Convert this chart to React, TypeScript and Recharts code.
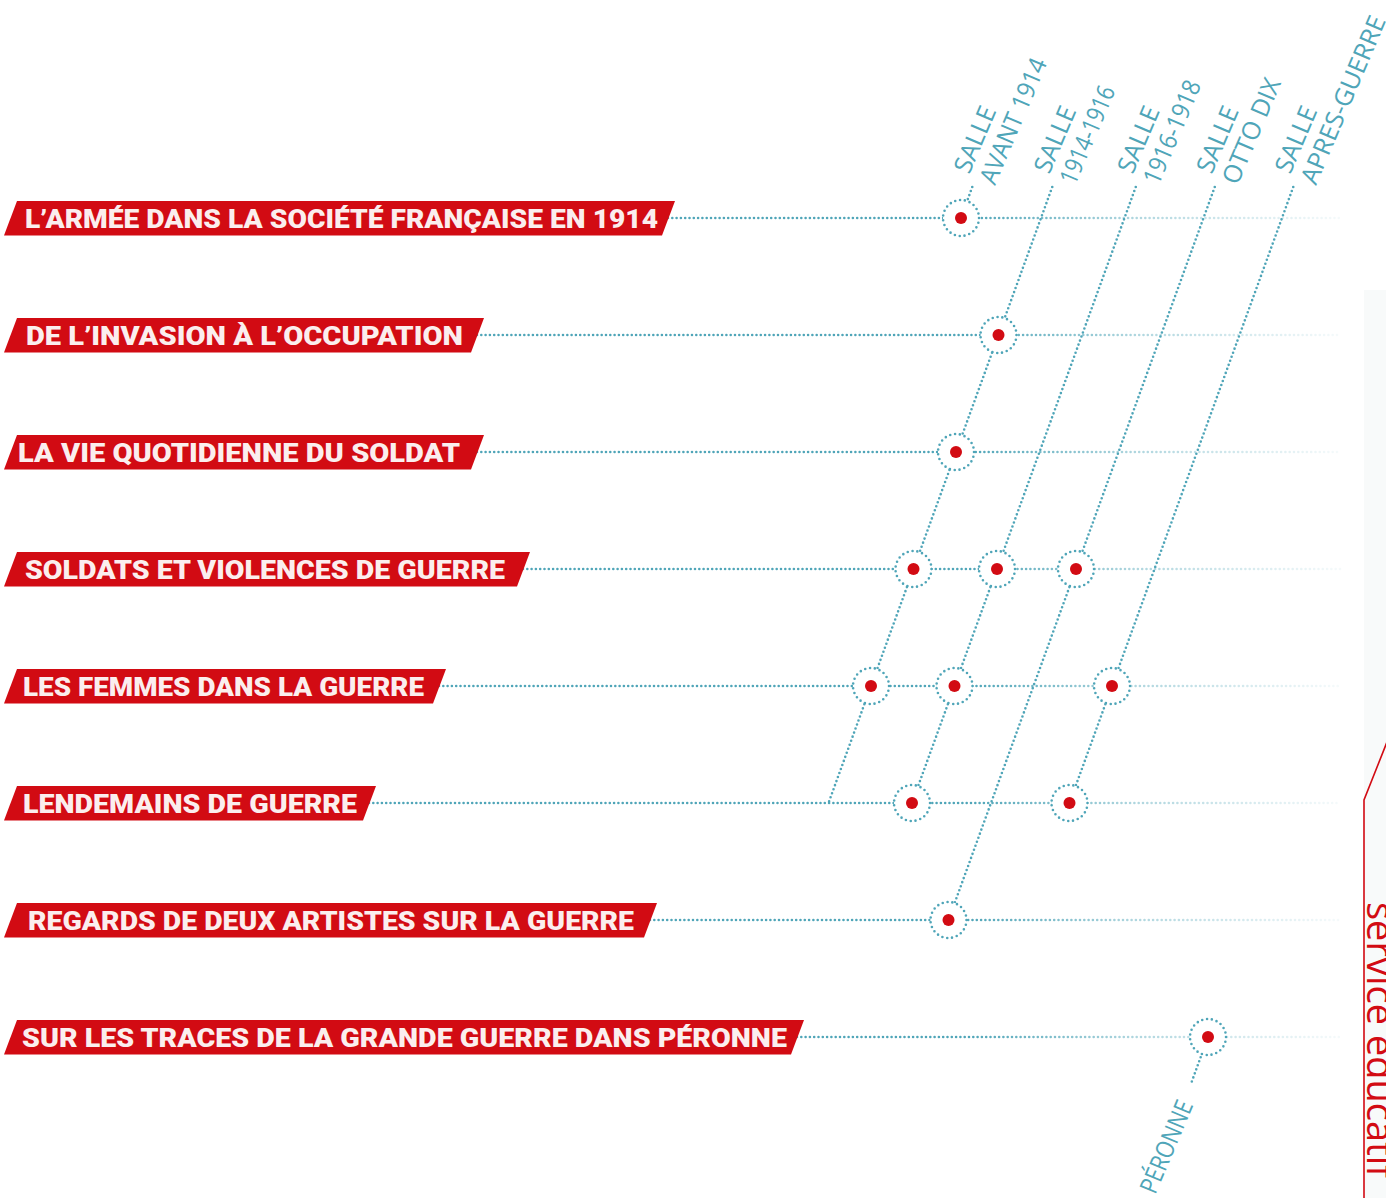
import React from "react";
import { ScatterChart, Scatter, XAxis, YAxis } from "recharts";

// ---------- data ----------
const THEMES = [
  "L’ARMÉE DANS LA SOCIÉTÉ FRANÇAISE EN 1914",
  "DE L’INVASION À L’OCCUPATION",
  "LA VIE QUOTIDIENNE DU SOLDAT",
  "SOLDATS ET VIOLENCES DE GUERRE",
  "LES FEMMES DANS LA GUERRE",
  "LENDEMAINS DE GUERRE",
  "REGARDS DE DEUX ARTISTES SUR LA GUERRE",
  "SUR LES TRACES DE LA GRANDE GUERRE DANS PÉRONNE",
];
const THEME_ROWS = [0, 1, 2, 3, 4, 5, 6, 7];

const SALLE_TITLES = ["SALLE", "SALLE", "SALLE", "SALLE", "SALLE", ""];
const SALLE_NAMES = ["AVANT 1914", "1914-1916", "1916-1918", "OTTO DIX", "APRES-GUERRE", "PÉRONNE"];
// position of each route where it crosses the first theme row (x-axis units)
const SALLE_POS = [961, 1041, 1124.5, 1203.5, 1282, 1505.5];
// rows (y-axis units) where each route starts and ends
const SALLE_FROM = [-0.265, -0.265, -0.265, -0.265, -0.265, 7];
const SALLE_TO = [0, 5, 5, 6, 5, 7.41];

// which theme is visited in which salle
const VISIT_THEME = [0, 1, 2, 3, 3, 3, 4, 4, 4, 5, 5, 6, 7];
const VISIT_SALLE = [0, 1, 1, 1, 2, 3, 1, 2, 4, 2, 4, 3, 5];

// ---------- layout / style ----------
const W = 1386;
const H = 1198;
const ROW0_PX = 218;
const ROW_STEP_PX = 117;
const Y_MIN = -ROW0_PX / ROW_STEP_PX;
const Y_MAX = (H - ROW0_PX) / ROW_STEP_PX;
const SLANT = 42.5;
const LINE_END = 1340;
const BANNER_TEXT_X = [25, 26, 18, 25, 23, 23, 28, 22];
const BANNER_TEXT_W = [633, 437, 442, 480, 401, 334, 606, 765];
const BANNER_RIGHT = [675, 484, 484, 530, 446, 376, 657, 804];
const TITLE_LEN = 70;
const NAME_LEN = [134, 104, 110, 112, 180, 98];

const TEAL = "#4fa5b8";
const RED = "#d20b13";

const xAt = (s: number, r: number) => SALLE_POS[s] - SLANT * r;

const rowLines = THEME_ROWS.map((r) => [
  { x: BANNER_RIGHT[r] - 7, y: r },
  { x: LINE_END, y: r },
]);
const routeLines = SALLE_POS.map((_, s) => [
  { x: xAt(s, SALLE_FROM[s]), y: SALLE_FROM[s] },
  { x: xAt(s, SALLE_TO[s]), y: SALLE_TO[s] },
]);
const visits = VISIT_THEME.map((r, k) => ({ x: xAt(VISIT_SALLE[k], r), y: r }));
const banners = THEME_ROWS.map((r) => ({ x: 0, y: r, i: r, label: THEMES[r] }));
const salleLabels = SALLE_POS.slice(0, 5).map((_, s) => ({
  x: xAt(s, SALLE_FROM[s]),
  y: SALLE_FROM[s],
  s,
  title: SALLE_TITLES[s],
  name: SALLE_NAMES[s],
}));
const peronneLabel = [{ x: xAt(5, SALLE_TO[5]), y: SALLE_TO[5], s: 5, name: SALLE_NAMES[5] }];

const EmptyShape = () => <g />;

const VisitShape = (props: any) => {
  const { cx, cy } = props;
  return (
    <g>
      <circle
        cx={cx}
        cy={cy}
        r={18}
        fill="#ffffff"
        stroke={TEAL}
        strokeWidth={2.6}
        strokeDasharray="0 4.9"
        strokeLinecap="round"
      />
      <circle cx={cx} cy={cy} r={6} fill={RED} />
    </g>
  );
};

const BannerShape = (props: any) => {
  const { cy, payload } = props;
  const i = payload.i;
  const R = BANNER_RIGHT[i];
  const top = cy - 17;
  const bot = cy + 17.5;
  return (
    <g>
      <polygon points={`4,${bot} 17,${top} ${R},${top} ${R - 13},${bot}`} fill={RED} />
      <text
        x={BANNER_TEXT_X[i]}
        y={cy + 10}
        fill="#fbeeee"
        fontFamily="Roboto, 'Liberation Sans', sans-serif"
        fontWeight={900}
        fontSize={26}
        textLength={BANNER_TEXT_W[i]}
        lengthAdjust="spacingAndGlyphs"
      >
        {payload.label}
      </text>
    </g>
  );
};

const labelFont = {
  fill: TEAL,
  fontFamily: "'Open Sans', sans-serif",
  fontSize: 25,
};

const SalleLabelShape = (props: any) => {
  const { cx, cy, payload } = props;
  const x = cx - 3;
  const y = cy - 12;
  return (
    <g transform={`rotate(-67 ${x} ${y})`}>
      <text x={x} y={y} {...labelFont} textLength={TITLE_LEN} lengthAdjust="spacingAndGlyphs">
        {payload.title}
      </text>
      <text x={x} y={y + 28} {...labelFont} textLength={NAME_LEN[payload.s]} lengthAdjust="spacingAndGlyphs">
        {payload.name}
      </text>
    </g>
  );
};

const PeronneLabelShape = (props: any) => {
  const { cx, cy, payload } = props;
  const x = cx + 3;
  const y = cy + 20;
  return (
    <g transform={`rotate(-67 ${x} ${y})`}>
      <text
        x={x - NAME_LEN[payload.s]}
        y={y}
        {...labelFont}
        textLength={NAME_LEN[payload.s]}
        lengthAdjust="spacingAndGlyphs"
      >
        {payload.name}
      </text>
    </g>
  );
};

const dotted = {
  stroke: TEAL,
  strokeWidth: 2.6,
  strokeDasharray: "0 4.3",
  strokeLinecap: "round" as const,
};

export default function App() {
  return (
    <div style={{ position: "absolute", left: 0, top: 0, width: W, height: H, background: "#ffffff", overflow: "hidden" }}>
      <svg width={W} height={H} style={{ position: "absolute", left: 0, top: 0 }}>
        <rect x={1364} y={290} width={W - 1364} height={H - 290} fill="#f8fafa" />
        <path d={`M1387,742 L1364,800 L1364,${H}`} fill="none" stroke={RED} strokeWidth={1.6} />
        <text
          x={1367}
          y={902}
          transform="rotate(90 1367 902)"
          fill={RED}
          fontFamily="'Open Sans', sans-serif"
          fontWeight={400}
          fontSize={38}
        >
          service educatif
        </text>
      </svg>
      <div style={{ position: "absolute", left: 0, top: 0 }}>
        <ScatterChart width={W} height={H} margin={{ top: 0, right: 0, bottom: 0, left: 0 }}>
          <defs>
            <linearGradient id="rowFade" gradientUnits="userSpaceOnUse" x1="0" y1="0" x2={W} y2="0">
              <stop offset="0" stopColor={TEAL} stopOpacity={1} />
              <stop offset="0.70" stopColor={TEAL} stopOpacity={1} />
              <stop offset="0.82" stopColor={TEAL} stopOpacity={0.45} />
              <stop offset="0.965" stopColor={TEAL} stopOpacity={0.06} />
            </linearGradient>
          </defs>
          <XAxis type="number" dataKey="x" domain={[0, W]} hide allowDataOverflow />
          <YAxis type="number" dataKey="y" domain={[Y_MIN, Y_MAX]} reversed hide allowDataOverflow />
          {rowLines.map((d, i) => (
            <Scatter
              key={`row-${i}`}
              data={d}
              line={{ ...dotted, stroke: "url(#rowFade)" }}
              lineType="joint"
              shape={EmptyShape}
              isAnimationActive={false}
            />
          ))}
          {routeLines.map((d, i) => (
            <Scatter
              key={`route-${i}`}
              data={d}
              line={dotted}
              lineType="joint"
              shape={EmptyShape}
              isAnimationActive={false}
            />
          ))}
          <Scatter data={visits} shape={VisitShape} isAnimationActive={false} />
          <Scatter data={banners} shape={BannerShape} isAnimationActive={false} />
          <Scatter data={salleLabels} shape={SalleLabelShape} isAnimationActive={false} />
          <Scatter data={peronneLabel} shape={PeronneLabelShape} isAnimationActive={false} />
        </ScatterChart>
      </div>
    </div>
  );
}
